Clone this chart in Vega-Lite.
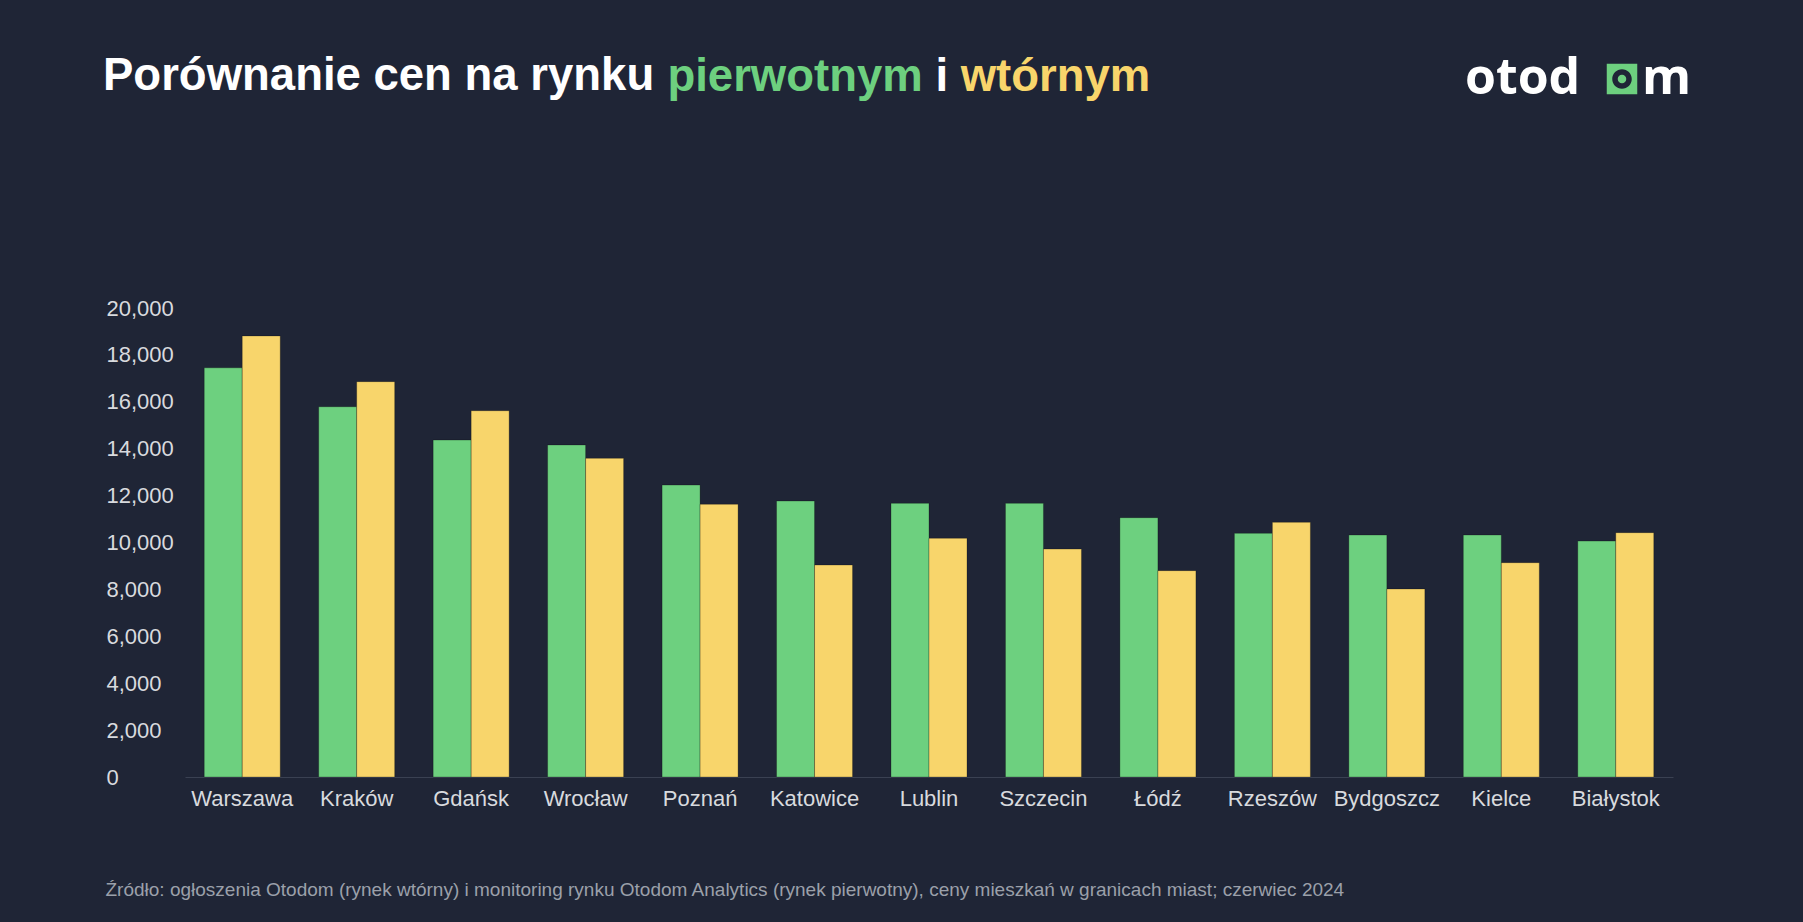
{
  "$schema": "https://vega.github.io/schema/vega-lite/v6.json",
  "width": 1488,
  "height": 469,
  "autosize": {"type": "none"},
  "padding": {"left": 185, "top": 308, "right": 130, "bottom": 145},
  "background": "#1f2536",
  "config": {"view": {"stroke": null}, "font": "Liberation Sans"},
  "title": {
    "text": "Porównanie cen na rynku",
    "anchor": "start",
    "frame": "group",
    "dx": -82,
    "offset": -45,
    "fontSize": 45.5,
    "font": "Liberation Sans",
    "fontWeight": "bold",
    "color": "#ffffff"
  },
  "data": {
    "values": [
      {"city": "Warszawa", "type": "pierwotny", "value": 17450},
      {"city": "Warszawa", "type": "wtórny", "value": 18810},
      {"city": "Kraków", "type": "pierwotny", "value": 15790},
      {"city": "Kraków", "type": "wtórny", "value": 16860},
      {"city": "Gdańsk", "type": "pierwotny", "value": 14370},
      {"city": "Gdańsk", "type": "wtórny", "value": 15620},
      {"city": "Wrocław", "type": "pierwotny", "value": 14160},
      {"city": "Wrocław", "type": "wtórny", "value": 13590},
      {"city": "Poznań", "type": "pierwotny", "value": 12450},
      {"city": "Poznań", "type": "wtórny", "value": 11630},
      {"city": "Katowice", "type": "pierwotny", "value": 11770},
      {"city": "Katowice", "type": "wtórny", "value": 9040},
      {"city": "Lublin", "type": "pierwotny", "value": 11670},
      {"city": "Lublin", "type": "wtórny", "value": 10180},
      {"city": "Szczecin", "type": "pierwotny", "value": 11670},
      {"city": "Szczecin", "type": "wtórny", "value": 9720},
      {"city": "Łódź", "type": "pierwotny", "value": 11060},
      {"city": "Łódź", "type": "wtórny", "value": 8800},
      {"city": "Rzeszów", "type": "pierwotny", "value": 10390},
      {"city": "Rzeszów", "type": "wtórny", "value": 10860},
      {"city": "Bydgoszcz", "type": "pierwotny", "value": 10320},
      {"city": "Bydgoszcz", "type": "wtórny", "value": 8020},
      {"city": "Kielce", "type": "pierwotny", "value": 10320},
      {"city": "Kielce", "type": "wtórny", "value": 9140},
      {"city": "Białystok", "type": "pierwotny", "value": 10060},
      {"city": "Białystok", "type": "wtórny", "value": 10420}
    ]
  },
  "layer": [
    {
      "mark": {"type": "bar", "stroke": "#000000", "strokeOpacity": 0.25, "strokeWidth": 1},
      "encoding": {
        "x": {
          "field": "city",
          "type": "nominal",
          "sort": null,
          "scale": {"paddingInner": 0.336, "paddingOuter": 0.168},
          "axis": {
            "orient": "bottom",
            "title": "Źródło: ogłoszenia Otodom (rynek wtórny) i monitoring rynku Otodom Analytics (rynek pierwotny), ceny mieszkań w granicach miast; czerwiec 2024",
            "titleX": -80,
            "titleY": 118,
            "titleAlign": "left",
            "titleAnchor": "start",
            "titleBaseline": "alphabetic",
            "titleFont": "Liberation Sans",
            "titleFontSize": 19,
            "titleFontWeight": "normal",
            "titleColor": "#9ba0aa",
            "labelAngle": 0,
            "labelFont": "Liberation Sans",
            "labelFontSize": 22,
            "labelColor": "#d8dade",
            "labelPadding": 11,
            "ticks": false,
            "tickSize": 0,
            "domain": true,
            "domainColor": "#3a4152",
            "domainWidth": 1,
            "grid": false
          }
        },
        "xOffset": {"field": "type", "type": "nominal", "sort": ["pierwotny", "wtórny"]},
        "y": {
          "field": "value",
          "type": "quantitative",
          "scale": {"domain": [0, 20000], "nice": false},
          "axis": {
            "orient": "left",
            "title": "i",
            "titleAngle": 0,
            "titleX": 749.9,
            "titleY": -218,
            "titleAlign": "left",
            "titleBaseline": "alphabetic",
            "titleFont": "Liberation Sans",
            "titleFontSize": 45.5,
            "titleFontWeight": "bold",
            "titleColor": "#ffffff",
            "values": [0, 2000, 4000, 6000, 8000, 10000, 12000, 14000, 16000, 18000, 20000],
            "format": ",d",
            "labelAlign": "left",
            "labelBaseline": "middle",
            "labelPadding": 79,
            "labelFont": "Liberation Sans",
            "labelFontSize": 22,
            "labelColor": "#d8dade",
            "ticks": false,
            "tickSize": 0,
            "domain": false,
            "grid": false
          }
        },
        "color": {
          "field": "type",
          "type": "nominal",
          "scale": {"domain": ["pierwotny", "wtórny"], "range": ["#6dd07f", "#f8d56b"]},
          "legend": null
        }
      }
    },
    {
      "mark": {"type": "point", "filled": true, "opacity": 0, "color": "#6dd07f"},
      "encoding": {
        "x": {
          "field": "city",
          "type": "nominal",
          "sort": null,
          "axis": {
            "orient": "top",
            "labels": false,
            "ticks": false,
            "domain": false,
            "grid": false,
            "title": "pierwotnym",
            "titleX": 481.9,
            "titleY": -218,
            "titleAlign": "left",
            "titleBaseline": "alphabetic",
            "titleFont": "Liberation Sans",
            "titleFontSize": 45.5,
            "titleFontWeight": "bold",
            "titleColor": "#6dd07f"
          }
        },
        "y": {
          "field": "value",
          "type": "quantitative",
          "axis": {
            "orient": "right",
            "labels": false,
            "ticks": false,
            "domain": false,
            "grid": false,
            "title": "wtórnym",
            "titleAngle": 0,
            "titleX": -712.8,
            "titleY": -218,
            "titleAlign": "left",
            "titleBaseline": "alphabetic",
            "titleFont": "Liberation Sans",
            "titleFontSize": 45.5,
            "titleFontWeight": "bold",
            "titleColor": "#f8d56b"
          }
        },
        "shape": {
          "datum": "m",
          "scale": {"range": ["M-1,-1H1V1H-1Z M0,-0.64A0.64,0.64 0 1,0 0,0.64A0.64,0.64 0 1,0 0,-0.64Z M0,-0.28A0.28,0.28 0 1,1 0,0.28A0.28,0.28 0 1,1 0,-0.28Z"]},
          "legend": {
            "orient": "none",
            "legendX": 1280,
            "legendY": -254,
            "title": "otod",
            "titleOrient": "left",
            "titleFont": "Open Sans",
            "titleFontSize": 50,
            "titleFontWeight": "bold",
            "titleColor": "#ffffff",
            "titlePadding": 16,
            "titleBaseline": "middle",
            "titleAnchor": "middle",
            "labelFont": "Open Sans",
            "labelFontSize": 50,
            "labelFontWeight": "bold",
            "labelColor": "#ffffff",
            "labelOffset": -5,
            "symbolSize": 930,
            "symbolOpacity": 1,
            "symbolFillColor": "#6dd07f",
            "symbolStrokeWidth": 0,
            "padding": 0
          }
        }
      }
    }
  ],
  "resolve": {"axis": {"x": "independent", "y": "independent"}}
}
